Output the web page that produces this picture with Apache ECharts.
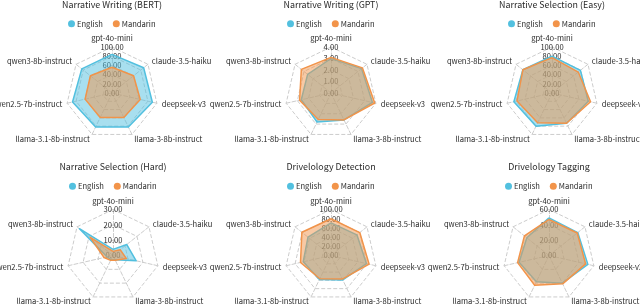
<!DOCTYPE html>
<html><head><meta charset="utf-8">
<script src="https://cdn.jsdelivr.net/npm/echarts@6/dist/echarts.min.js"></script>
<style>html,body{margin:0;padding:0;background:#fff}#c{width:640px;height:305px}</style>
</head><body><div id="c"></div>
<script>
// categories in clockwise order starting at the top
const models = ['gpt-4o-mini','claude-3.5-haiku','deepseek-v3','llama-3-8b-instruct','llama-3.1-8b-instruct','qwen2.5-7b-instruct','qwen3-8b-instruct'];
const chartTitles = ['Narrative Writing (BERT)','Narrative Writing (GPT)','Narrative Selection (Easy)','Narrative Selection (Hard)','Drivelology Detection','Drivelology Tagging'];
const axisMax = [100, 4, 100, 30, 100, 60];
const axisSplits = [5, 4, 5, 3, 5, 3];

const writingBertEnglish  = [84, 88, 90, 82, 82, 88, 84];
const writingBertMandarin = [56, 60, 63, 59, 59, 60, 60];
const writingGptEnglish   = [3.0, 3.4, 3.7, 2.6, 2.8, 2.65, 2.6];
const writingGptMandarin  = [3.1, 3.5, 3.9, 2.6, 2.55, 2.8, 3.3];
const easyEnglish   = [80, 79, 81, 73, 80, 85, 81];
const easyMandarin  = [77, 73, 86, 73, 72, 78, 81];
const hardEnglish   = [4, 11.5, 15.5, 3, 3, 4, 28];
const hardMandarin  = [2.7, 6, 9, 3.5, 3.5, 6, 19];
const detectEnglish  = [71, 72, 79, 59, 58, 62, 64];
const detectMandarin = [80, 80, 85, 57, 56, 68, 81];
const tagEnglish  = [49, 48, 52, 40, 38, 40, 37];
const tagMandarin = [47, 47, 49, 41, 43, 42, 41];

const englishSets  = [writingBertEnglish, writingGptEnglish, easyEnglish, hardEnglish, detectEnglish, tagEnglish];
const mandarinSets = [writingBertMandarin, writingGptMandarin, easyMandarin, hardMandarin, detectMandarin, tagMandarin];

const EN = '#52C0DF', ZH = '#F2944A';
const FONT = 'Noto Sans CJK SC';
const TXT = '#2a2a2a';
// ECharts radar runs counter-clockwise; reorder so the picture reads clockwise
const order = [0, 6, 5, 4, 3, 2, 1];
const centers = [[112, 93], [331, 93], [552, 93], [113, 255.5], [331, 255.5], [549, 255.5]];
const R = 46;

const chart = echarts.init(document.getElementById('c'));
const title = [], legend = [], radar = [], series = [];
chartTitles.forEach((t, i) => {
  const [cx, cy] = centers[i];
  title.push({text: t, left: cx, top: cy - 93, textAlign: 'center', padding: 0,
    textStyle: {fontSize: 8.9, fontWeight: 'normal', color: TXT, fontFamily: FONT}});
  legend.push({data: ['English', 'Mandarin'], left: cx - 44, top: cy - 73, padding: 0,
    icon: 'circle', itemWidth: 7, itemHeight: 7, itemGap: 10,
    textStyle: {fontSize: 7.6, color: TXT, fontFamily: FONT, padding: [0, 0, 0, -3]}});
  radar.push({
    center: [cx, cy], radius: R, startAngle: 90, splitNumber: axisSplits[i],
    indicator: order.map((k, j) => {
      const ind = {name: models[k], max: axisMax[i], min: 0};
      if (j === 0) ind.axisLabel = {show: true};
      return ind;
    }),
    nameGap: 5,
    axisName: {color: TXT, fontSize: 7.6, fontFamily: FONT},
    axisLine: {lineStyle: {color: '#ccc', type: 'dashed', width: 1}},
    splitLine: {lineStyle: {color: '#ccc', type: 'dashed', width: 1}},
    splitArea: {show: false},
    axisLabel: {show: false, fontSize: 7.6, color: TXT, fontFamily: FONT, margin: 0,
      align: 'center', verticalAlign: 'middle',
      formatter: v => Number(v).toFixed(2)}
  });
  series.push({
    type: 'radar', radarIndex: i, symbol: 'none',
    data: [
      {name: 'English', value: order.map(k => englishSets[i][k]),
        itemStyle: {color: EN}, lineStyle: {color: EN, width: 1.5}, areaStyle: {color: EN, opacity: 0.5}},
      {name: 'Mandarin', value: order.map(k => mandarinSets[i][k]),
        itemStyle: {color: ZH}, lineStyle: {color: ZH, width: 1.5}, areaStyle: {color: ZH, opacity: 0.5}}
    ]
  });
});
chart.setOption({animation: false, title, legend, radar, series});
</script></body></html>
